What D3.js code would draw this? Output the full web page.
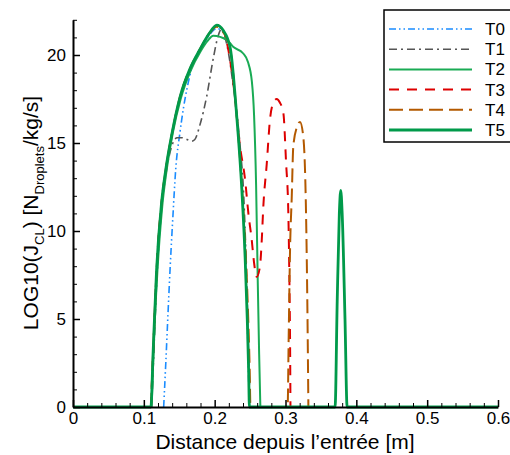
<!DOCTYPE html>
<html>
<head>
<meta charset="utf-8">
<script src="https://cdn.jsdelivr.net/npm/d3@7"></script>
<style>
  body { margin: 0; background: #fff; }
  svg { display: block; font-family: "Liberation Sans", Arial, sans-serif; }
</style>
</head>
<body>
<svg id="chart" width="510" height="455"></svg>
<script>
// ---- data (x in m, y = LOG10(J_CL)) ----
const seriesNames = ["T0", "T1", "T2", "T3", "T4", "T5"];

const T0 = [[0.128,0],[0.131,2.5],[0.134,5.2],[0.137,7.8],[0.141,10.8],[0.145,13.5],[0.151,15.6],[0.156,17.0],[0.161,18.1],[0.166,19.0],[0.172,19.8],[0.181,20.4],
  [0.192,21.1],[0.203,21.5],[0.212,21.3],[0.222,20.3],[0.231,16.6],[0.238,12.6],[0.243,8.5],[0.246,5],[0.248,1.5],[0.249,0]];

const T1 = [[0.111,0],[0.114,3],[0.118,7],[0.124,10.8],[0.130,12.9],[0.136,14.3],[0.141,15.0],[0.147,15.3],[0.154,15.3],[0.161,15.2],[0.167,15.1],[0.172,15.2],
  [0.179,16.0],[0.189,17.7],[0.198,19.8],[0.205,21.1],[0.210,21.5],[0.214,21.1],[0.220,20.0],[0.226,18.3],[0.236,14.8],[0.241,12.0],[0.245,7.5],[0.248,3],[0.250,0]];

const T2 = [[0.111,0],[0.114,3.5],[0.119,7.6],[0.126,11.4],[0.132,13.4],[0.141,15.6],[0.152,17.5],[0.166,19.1],[0.180,20.2],[0.190,20.8],[0.198,21.1],
  [0.2175,20.85],[0.2265,20.45],[0.240,20.1],[0.247,19.6],[0.2525,18.5],[0.2556,16.6],[0.2585,12.6],[0.2608,7.2],[0.2628,3],[0.2645,0]];

const T3 = [[0.110,0],[0.113,3],[0.118,7.8],[0.125,11.6],[0.131,13.5],[0.140,15.6],[0.151,17.6],[0.165,19.2],[0.179,20.3],[0.192,21.2],[0.204,21.6],
  [0.212,21.4],[0.217,20.75],[0.226,18.5],[0.2358,14.8],[0.243,12.9],[0.2476,11.0],[0.2523,9.5],[0.2556,8.2],[0.2593,7.4],[0.264,8.0],[0.2665,9.5],
  [0.2687,11.4],[0.2735,13.8],[0.278,16.3],[0.283,17.3],[0.2875,17.5],[0.292,17.3],[0.297,16.7],[0.3008,13.9],[0.304,11.0],[0.3055,7.2],[0.3065,3.4],[0.307,0]];

const T4 = [[0.110,0],[0.113,3],[0.118,7.8],[0.125,11.6],[0.131,13.5],[0.140,15.6],[0.151,17.6],[0.165,19.2],[0.179,20.3],[0.192,21.2],[0.203,21.6],
  [0.212,21.3],[0.222,20.3],[0.231,16.6],[0.238,12.8],[0.2435,9],[0.247,5.5],[0.2495,2],[0.2505,0],
  [0.303,0],[0.3045,4],[0.3065,9.1],[0.3088,11.9],[0.311,14.8],[0.316,15.9],[0.3205,16.2],[0.325,15.4],[0.329,11.0],[0.331,5.3],[0.3323,0]];

const T5 = [[0.0,0],[0.110,0],[0.113,3],[0.118,7.8],[0.125,11.6],[0.131,13.5],[0.140,15.6],[0.151,17.6],[0.165,19.2],[0.179,20.3],[0.192,21.2],[0.203,21.7],
  [0.212,21.4],[0.222,20.4],[0.231,16.6],[0.238,12.6],[0.243,8.5],[0.246,5],[0.248,2],[0.249,0],
  [0.370,0],[0.373,6],[0.376,11],[0.378,12.3],[0.380,11],[0.384,5],[0.387,0],[0.6,0]];

const seriesData = [T0, T1, T2, T3, T4, T5];
const seriesColors = ["#1a8cff", "#555555", "#1aab55", "#dd0000", "#b35900", "#009a4a"];
const seriesWidths = [1.6, 1.6, 2, 2, 2, 2.8];
const seriesDash = ["7,3,1.5,3,1.5,3", "8,4,2,4", null, "10,8", "14,6", null];

const xMajorTicks = [0, 0.1, 0.2, 0.3, 0.4, 0.5, 0.6];
const yMajorTicks = [0, 5, 10, 15, 20];

// ---- layout ----
const svg = d3.select("#chart");
const x = d3.scaleLinear().domain([0, 0.6]).range([73, 498]);
const y = d3.scaleLinear().domain([0, 22]).range([407, 19.8]);

// curves
const line = d3.line().x(d => x(d[0])).y(d => y(d[1])).curve(d3.curveMonotoneX);
const gLines = svg.append("g");
seriesData.forEach((data, i) => {
  gLines.append("path")
    .attr("d", line(data))
    .attr("fill", "none")
    .attr("stroke", seriesColors[i])
    .attr("stroke-width", seriesWidths[i])
    .attr("stroke-dasharray", seriesDash[i])
    .attr("stroke-linejoin", "round");
});

// minor ticks
const xMinor = d3.range(0, 0.6001, 0.02).filter(v => Math.abs(v * 10 - Math.round(v * 10)) > 1e-6);
const yMinor = d3.range(0, 22.001, 1).filter(v => v % 5 !== 0);

const xAxisMinor = d3.axisBottom(x).tickValues(xMinor).tickSize(-4).tickSizeOuter(0).tickFormat("");
const yAxisMinor = d3.axisLeft(y).tickValues(yMinor).tickSize(-4).tickSizeOuter(0).tickFormat("");
svg.append("g").attr("transform", "translate(0,407)").call(xAxisMinor).call(g => g.select(".domain").remove());
svg.append("g").attr("transform", "translate(73,0)").call(yAxisMinor).call(g => g.select(".domain").remove());

const xAxis = d3.axisBottom(x).tickValues(xMajorTicks).tickSize(-7).tickSizeOuter(0).tickPadding(5)
  .tickFormat(d => d === 0 ? "0" : d3.format(".1f")(d));
const yAxis = d3.axisLeft(y).tickValues(yMajorTicks).tickSize(-7).tickSizeOuter(0).tickPadding(7)
  .tickFormat(d3.format("d"));

const gx = svg.append("g").attr("transform", "translate(0,407)").call(xAxis);
const gy = svg.append("g").attr("transform", "translate(73,0)").call(yAxis);
[gx, gy].forEach(g => {
  g.selectAll("text").attr("font-size", 17).attr("font-family", "Liberation Sans, Arial, sans-serif").attr("fill", "#000");
  g.select(".domain").attr("stroke-width", 2);
  g.selectAll(".tick line").attr("stroke-width", 1.5);
});
svg.selectAll(".tick line").attr("stroke", "#000");

// axis titles
svg.append("text")
  .attr("x", 285).attr("y", 449)
  .attr("text-anchor", "middle")
  .attr("font-size", 21)
  .text("Distance depuis l’entrée [m]");

const yt = svg.append("text")
  .attr("transform", "translate(38,213) rotate(-90)")
  .attr("text-anchor", "middle")
  .attr("font-size", 21);
yt.append("tspan").text("LOG10(J");
yt.append("tspan").attr("font-size", 13).attr("dy", 6).text("CL");
yt.append("tspan").attr("dy", -6).text(") [N");
yt.append("tspan").attr("font-size", 13).attr("dy", 6).text("Droplets");
yt.append("tspan").attr("dy", -6).text("/kg/s]");

// legend
const lg = svg.append("g");
lg.append("rect").attr("x", 384).attr("y", 10).attr("width", 140).attr("height", 132)
  .attr("fill", "#fff").attr("stroke", "#000").attr("stroke-width", 1.5);
seriesNames.forEach((name, i) => {
  const yy = 29 + i * 20.2;
  lg.append("line").attr("x1", 389).attr("x2", 472).attr("y1", yy).attr("y2", yy)
    .attr("stroke", seriesColors[i]).attr("stroke-width", seriesWidths[i])
    .attr("stroke-dasharray", seriesDash[i]);
  lg.append("text").attr("x", 485).attr("y", yy).attr("dy", "0.35em")
    .attr("font-size", 17).text(name);
});
</script>
</body>
</html>
